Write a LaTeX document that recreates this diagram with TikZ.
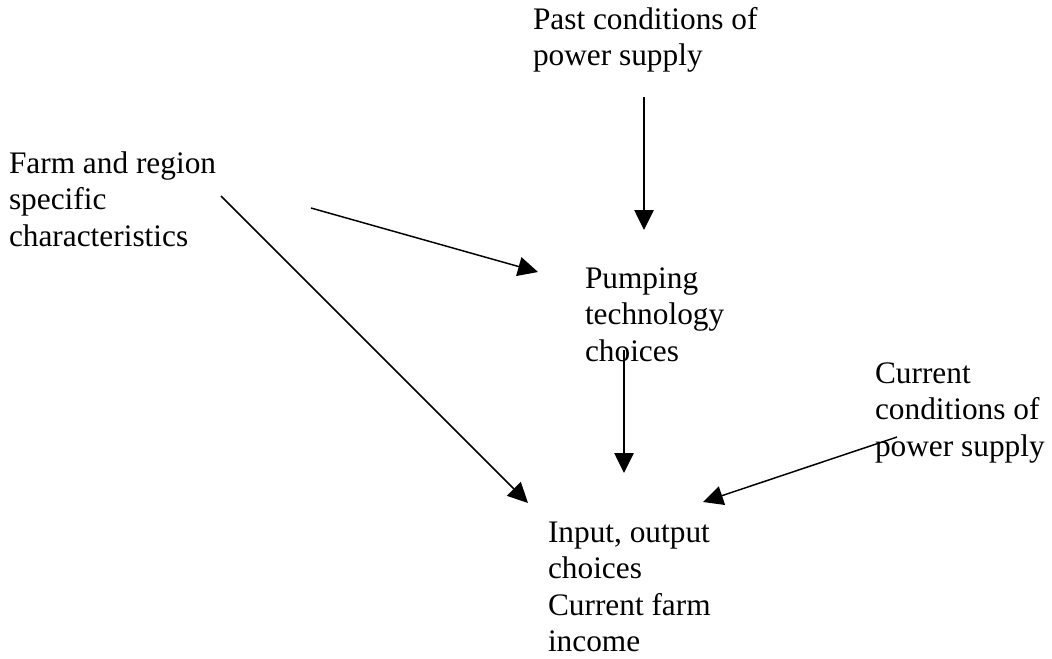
\documentclass[tikz,border=0pt]{standalone}
\usepackage{fontspec}
\setmainfont{Liberation Serif}
\usetikzlibrary{arrows.meta}
\newcommand{\blk}[1]{\begin{tabular}[t]{@{}l@{}}#1\end{tabular}}
\begin{document}
\begin{tikzpicture}[x=0.75pt,y=-0.75pt,
  lbl/.style={anchor=base west,inner sep=0pt,outer sep=0pt,font=\fontsize{23.5}{27.4}\selectfont},
  conn/.style={line width=1.1pt,-{Triangle[length=15pt,width=14.5pt]}}]
\useasboundingbox (0,0) rectangle (1052,658);
% text blocks
\node[lbl] (past) at (533,29) {\blk{Past conditions of\\power supply}};
\node[lbl] (farm) at (9,173) {\blk{Farm and region\\specific\\characteristics}};
\node[lbl] (pump) at (585,288) {\blk{Pumping\\technology\\choices}};
\node[lbl] (curr) at (875,383) {\blk{Current\\conditions of\\power supply}};
\node[lbl] (inout) at (548,542) {\blk{Input, output\\choices\\Current farm\\income}};
% connector end points
\coordinate (pastS) at (644,97);
\coordinate (pumpE1) at (644,230);
\coordinate (farmS1) at (311,208);
\coordinate (pumpE2) at (538,272);
\coordinate (farmS2) at (221,196);
\coordinate (inE1) at (528,503);
\coordinate (pumpS) at (624,350);
\coordinate (inE2) at (624,473);
\coordinate (currS) at (897,437);
\coordinate (inE3) at (703,502);
% connectors
\draw[conn] (pastS) -- (pumpE1);
\draw[conn] (farmS1) -- (pumpE2);
\draw[conn] (farmS2) -- (inE1);
\draw[conn] (pumpS) -- (inE2);
\draw[conn] (currS) -- (inE3);
\end{tikzpicture}
\end{document}
